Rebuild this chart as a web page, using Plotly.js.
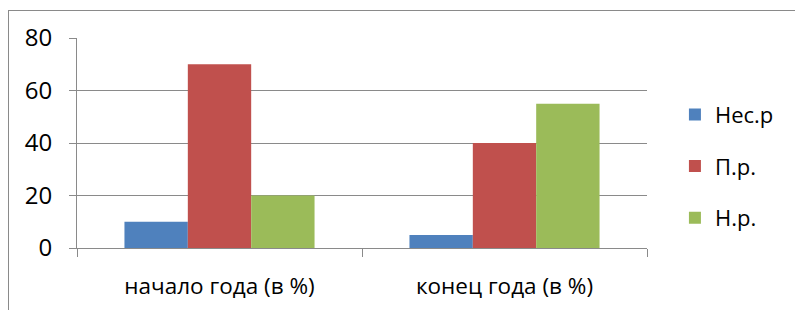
<!DOCTYPE html>
<html>
<head>
<meta charset="utf-8">
<script src="https://cdn.plot.ly/plotly-3.0.1.min.js"></script>
<style>
  html, body { margin: 0; padding: 0; background: #fff; }
  #wrap { position: relative; width: 795px; height: 310px; overflow: hidden; }
  #frame { position: absolute; left: 8px; top: 10px; width: 800px; height: 320px; border: 1px solid #8a8a8a; box-sizing: border-box; }
  #chart { position: absolute; left: 0; top: 0; width: 795px; height: 310px; }
</style>
</head>
<body>
<div id="wrap">
  <div id="frame"></div>
  <div id="chart"></div>
</div>
<script>
const categories = ["начало года (в %)", "конец года (в %)"];
const seriesNames = ["Нес.р", "П.р.", "Н.р."];
const nesR = [10, 5];
const pR = [70, 40];
const nR = [20, 55];
const yTicks = [0, 20, 40, 60, 80];

const colors = ["#4F81BD", "#C0504D", "#9BBB59"];
const values = [nesR, pR, nR];

const traces = values.map((v, i) => ({
  type: "bar",
  x: categories,
  y: v,
  name: seriesNames[i],
  legendgroup: "g" + i,
  marker: { color: colors[i], line: { width: 0 } },
  hoverinfo: "none"
}));

const layout = {
  width: 795,
  height: 310,
  margin: { l: 77, r: 148, t: 38, b: 62 },
  paper_bgcolor: "rgba(0,0,0,0)",
  plot_bgcolor: "rgba(0,0,0,0)",
  font: { family: "Open Sans, Liberation Sans, sans-serif", color: "#000", size: 18 },
  barmode: "group",
  bargap: 0.333,
  bargroupgap: 0,
  showlegend: true,
  legend: {
    x: 1.049, y: 0.735, xanchor: "left", yanchor: "top",
    font: { size: 22 },
    tracegroupgap: 20,
    bgcolor: "rgba(0,0,0,0)"
  },
  xaxis: {
    type: "category",
    showline: true, linecolor: "#8a8a8a", linewidth: 1,
    ticks: "outside", tickson: "boundaries", ticklen: 8, tickcolor: "#8a8a8a",
    showgrid: false,
    tickfont: { size: 22.5 },
    ticklabelstandoff: 18,
    fixedrange: true
  },
  yaxis: {
    range: [0, 80],
    tickvals: yTicks,
    ticktext: yTicks.map(String),
    showline: true, linecolor: "#8a8a8a", linewidth: 1,
    ticks: "outside", ticklen: 7, tickcolor: "#8a8a8a",
    showgrid: true, gridcolor: "#8a8a8a", gridwidth: 1,
    zeroline: false,
    tickfont: { size: 24 },
    ticklabelstandoff: 12,
    fixedrange: true
  }
};

Plotly.newPlot("chart", traces, layout, { displayModeBar: false, staticPlot: true });
</script>
</body>
</html>
